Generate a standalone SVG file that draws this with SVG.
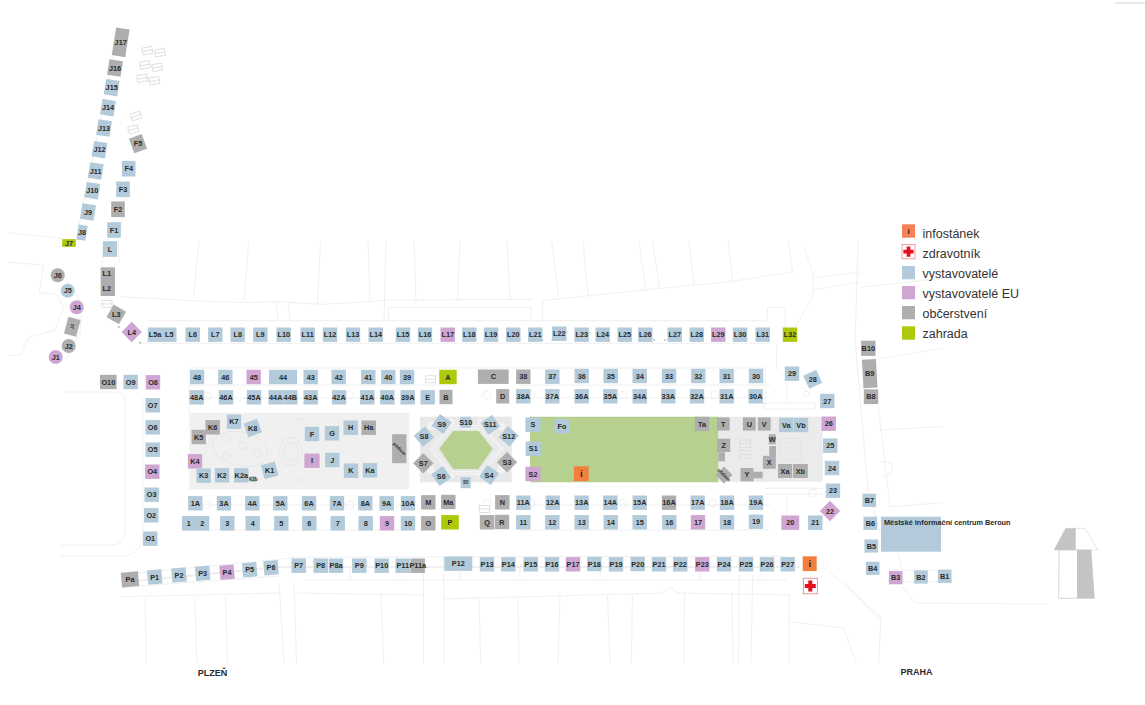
<svg xmlns="http://www.w3.org/2000/svg" width="1145" height="705" viewBox="0 0 1145 705">
<style>
text{font-family:"Liberation Sans",Arial,sans-serif;font-size:7.3px;font-weight:700;fill:#2a2a2a;text-anchor:middle}
.b{fill:#b2cad9}.e{fill:#cfa6d2}.o{fill:#aeaeae}.z{fill:#aec90b}.f{fill:#f47f3c}
#base path,#base line{fill:none;stroke:#e8e8e8;stroke-width:.65}
#base circle,#base ellipse,#base rect{fill:none;stroke:#e8e8e8;stroke-width:.65}
.car{fill:#fff;stroke:#d4d4d4;stroke-width:.7}
.dot{fill:#ccc}
.lg{font-size:12.5px;font-weight:400;text-anchor:start;fill:#333}
.t5{font-size:4.5px}
.i{font-size:9.5px;fill:#222}
</style>
<defs>
<rect id="s" x="-7.2" y="-7.2" width="14.4" height="14.4"/>
<g id="car"><rect class="car" x="-5" y="-3.5" width="10" height="7"/><line x1="-5" y1="0" x2="5" y2="0" stroke="#d4d4d4" stroke-width=".7"/></g>
<g id="cross"><rect x="-7" y="-7.8" width="14" height="15.6" fill="#fff" stroke="#e77" stroke-width=".8"/><path d="M-2-5.5h4v3.5h3.5v4h-3.5v3.5h-4v-3.5h-3.5v-4h3.5z" fill="#e8101c"/></g>
</defs>
<rect width="1145" height="705" fill="#fff"/>
<line x1="1115" y1="3" x2="1145" y2="3" stroke="#bbb" stroke-width=".7"/>

<g id="plazas">
<rect x="189.3" y="412.7" width="220" height="76.6" fill="#f0f0f0"/>
<rect x="420" y="416.7" width="91.7" height="65.6" fill="#e8e8e8"/>
<rect x="718.3" y="416.7" width="104.4" height="65" fill="#ebebeb"/>
<polygon points="530,416.7 718.3,416.7 718.3,482.3 530,482.3" fill="#b6d08f"/>
<polygon points="439.3,448.8 453.3,431 478.3,431 492.7,448.8 478.3,469 453.3,469" fill="#b6d08f"/>
<polygon points="430.7,448.8 450,426 481.7,426 501.7,448.8 481.7,474 450,474" fill="none" stroke="#f0f0f0" stroke-width="3"/>
<polygon points="434.7,448.8 451.5,428.5 480,428.5 497,448.8 480,471.5 451.5,471.5" fill="none" stroke="#f5f5f5" stroke-width="1"/>
<g fill="#f2f2f2"><circle cx="431" cy="426" r="4"/><circle cx="452" cy="422" r="3"/><circle cx="480" cy="422" r="3"/><circle cx="501" cy="426" r="4"/><circle cx="431" cy="470" r="4"/><circle cx="452" cy="476" r="3"/><circle cx="480" cy="476" r="3"/><circle cx="501" cy="470" r="4"/></g>
<g fill="none" stroke="#e2e2e2" stroke-width=".7">
<ellipse cx="240" cy="449" rx="28" ry="17" transform="rotate(14 240 449)"/>
<circle cx="226" cy="438.3" r="4"/><circle cx="243.3" cy="445.7" r="4"/><circle cx="257.3" cy="453.3" r="4"/><circle cx="226.7" cy="456" r="4"/>
<path d="M285 438h12l6 13-6 14h-12l-6-14z"/><path d="M287 443h8l4 8-4 9h-8l-4-9z"/>
<path d="M293 419h10M307 419h5M293 480h10M307 480h5"/>
<rect x="780" y="438.3" width="20.7" height="21.7"/><rect x="785" y="443" width="11" height="12"/><circle cx="790.5" cy="449" r="2"/>
</g>
<g fill="none" stroke="#dadada" stroke-width=".8"><rect x="739.5" y="440" width="11" height="7.5"/><rect x="739.5" y="450.5" width="11" height="7.5"/><path d="M739.5 443.7h11M739.5 454.2h11"/></g>
</g>

<g id="base">
<path d="M120 296.7L193 300.7 244 302.7 276 301.7 322 304.3 370 301.7 384 300 533 299.3M542 300.7L643.4 290 730.6 281.7 792.6 271.7"/>
<path d="M193.5 296.7L199 240M244 301.7L248.6 241.7M317.4 304L320.6 241.7M370 301.7L368 241.7M384 320L386 240M416 301.7L414 240M457.5 301.7L460 240M510 300L507 240M558.5 296.7L551.6 240M588 295L583 241.7M645.7 290L639 241.7M694 285L689 240M652.6 241.7L659.5 288M733 281.7L728 240M792.6 271.7L788 240"/>
<path d="M804 246.7L813 273V296.7L795 326.7M813 278L860 272M813 290L860 282"/>
<path d="M147.5 320.7H767M140 343.3H770M276 302L278 320M288 302L290 320M388.6 320V307.3H531V320M542.4 301.7V320M767.4 320V307.3H785V340M776.6 345V370"/>
<path d="M189 385V412M189 368H765M189 385H440M520 385H770M189 398H410M520 398H770M189 505H410M520 505H770M189 530H410M520 530H770M765 368V408"/>
<circle cx="207" cy="396" r="4"/><circle cx="349.6" cy="395" r="4"/><circle cx="487" cy="395" r="4"/><circle cx="531" cy="395" r="4"/><circle cx="622.8" cy="395" r="4"/><circle cx="714.6" cy="395" r="4"/><circle cx="806" cy="394" r="3"/>
<circle cx="207" cy="505" r="4"/><circle cx="349.6" cy="505" r="4"/><circle cx="487" cy="503" r="4"/><circle cx="531" cy="503" r="4"/><circle cx="622.8" cy="503" r="4"/><circle cx="713" cy="503" r="4"/><circle cx="812.7" cy="493" r="4"/>
<path d="M763 403H815V409H763ZM786.7 382V403M765 488.3H823M765 494H823M786.7 494V520"/>
<path d="M65 392H118Q125 392 125 400V530Q125 545 112 545H60M143 398V535Q143 552 125 556H60"/>
<path d="M136.4 573L279 559.3 294 557.3 786.6 556M121.5 587.3L279 576M304 580H786.6M121.5 596.7L279 593M296.6 593L423.5 595M443.4 599L663 593M663 593Q670 582 677 593L789 595"/>
<path d="M145 598L146.4 663M194.6 598L197 663M225.5 597L227.5 663M279 583L284 663M294 583L296.6 663M381 595L383.7 663M423.5 557V663M443.4 557L444.4 663M479 598L480.7 663M518 598L519 663M560 595L558 663M607.5 595L610 663M632.4 595L631.4 663M684.7 593L683.7 663M732 593L733 663M739.4 575L738.4 663M752.8 575L750.8 663M789 595V663M789 621.7L844 628 856 663"/>
<path d="M821.5 565L881 617 878.7 663M157 580V587M200 576V585M250 572V580M350 568V580M400 568V580M460 568V580M520 568V580M600 568V580M700 568V580M760 568V580"/>
<path d="M858.3 240L855 340 868 490 880 533M878.3 406.7L890 506.7M878 430L943 426.7M860 287.3L943 278M878 359L943 348M890 506.7L943 502.7M898 553L902 570M903 587L915 603 1048 604M845 583L880 620M888 570H952M888 581.7H952M880 461.7L892 463V471.7L883 478"/>
<path d="M8 232.7L62 238.3M8 262.3L43.3 265 39.3 292.3 56.7 295 63.3 308.3 55 330 28.3 337.3 20 355 8 355.7M63.3 275L81.7 303.3 80 333.3 66.7 358.3M118.3 240L119.3 261.7M103 256L102 267M115 50L78 230M120 233L128 180"/>
<path d="M125 582L280 567H800" style="stroke:#efefef;stroke-width:2"/>
</g>

<g id="parking">
<use href="#car" transform="translate(147.3 50.7) rotate(-10)"/><use href="#car" transform="translate(160 52.7) rotate(-10)"/>
<use href="#car" transform="translate(145 65) rotate(-10)"/><use href="#car" transform="translate(157.3 67.3) rotate(-10)"/>
<use href="#car" transform="translate(142.3 78.3) rotate(-10)"/><use href="#car" transform="translate(154.3 80.7) rotate(-10)"/>
<use href="#car" transform="translate(136 116) rotate(-20)"/><use href="#car" transform="translate(133.3 129.3) rotate(-15)"/>
<use href="#car" transform="translate(107 304)"/><use href="#car" transform="translate(430.7 379.3)"/><use href="#car" transform="translate(484.3 509)"/>
<circle class="dot" cx="119" cy="327" r="1.3"/><circle class="dot" cx="140" cy="342.7" r="1.3"/><circle class="dot" cx="542.3" cy="340" r="1.1"/><circle class="dot" cx="552.3" cy="340" r="1.1"/><circle class="dot" cx="654.3" cy="340" r="1.1"/><circle class="dot" cx="665" cy="340" r="1.1"/>
</g>

<g id="landmark">
<polygon points="1065.7,528.3 1085,528.3 1097.7,550 1054,550" fill="#fff" stroke="#ccc" stroke-width=".5"/>
<polygon points="1065.7,528.3 1075.7,528.3 1075.7,550 1054,550" fill="#c4c4c4"/>
<polygon points="1059,550 1091,550 1094.3,598.3 1058.7,598.3" fill="#fff" stroke="#c4c4c4" stroke-width=".7"/>
<polygon points="1077,550 1091,550 1094.3,598.3 1077,598.3" fill="#c4c4c4"/>
</g>

<g id="connectors"></g>

<g id="nodes">
<g id="nJ17" class="o" transform="translate(120.7 42.3)"><rect x="-6.8" y="-14" width="13.6" height="28" transform="rotate(9)"/><text y="2.5">J17</text></g>
<g id="nJ16" class="o" transform="translate(115 68)"><rect x="-6.8" y="-7.8" width="13.6" height="15.6" transform="rotate(9)"/><text y="2.5">J16</text></g>
<g id="nJ15" class="b" transform="translate(111.7 87.7)"><rect x="-6.8" y="-7.8" width="13.6" height="15.6" transform="rotate(9)"/><text y="2.5">J15</text></g>
<g id="nJ14" class="b" transform="translate(108 107.7)"><rect x="-6.8" y="-7.8" width="13.6" height="15.6" transform="rotate(9)"/><text y="2.5">J14</text></g>
<g id="nJ13" class="b" transform="translate(104 128)"><rect x="-6.8" y="-7.8" width="13.6" height="15.6" transform="rotate(9)"/><text y="2.5">J13</text></g>
<g id="nJ12" class="b" transform="translate(99.5 149.7)"><rect x="-6.8" y="-7.8" width="13.6" height="15.6" transform="rotate(9)"/><text y="2.5">J12</text></g>
<g id="nJ11" class="b" transform="translate(95.7 171)"><rect x="-6.8" y="-7.8" width="13.6" height="15.6" transform="rotate(9)"/><text y="2.5">J11</text></g>
<g id="nJ10" class="b" transform="translate(92.3 190.7)"><rect x="-6.8" y="-7.8" width="13.6" height="15.6" transform="rotate(9)"/><text y="2.5">J10</text></g>
<g id="nJ9" class="b" transform="translate(88 212)"><rect x="-6.8" y="-7.8" width="13.6" height="15.6" transform="rotate(9)"/><text y="2.5">J9</text></g>
<g id="nJ8" class="b" transform="translate(82 232.7)"><rect x="-4.5" y="-7.5" width="9" height="15" transform="rotate(9)"/><text y="2.5">J8</text></g>
<g id="nJ7" class="z" transform="translate(69 243)"><rect x="-6.8" y="-3.9" width="13.6" height="7.8"/><text y="2.5">J7</text></g>
<g id="nF5" class="o" transform="translate(138 143.7)"><rect x="-6.8" y="-7.8" width="13.6" height="15.6" transform="rotate(-20)"/><text y="2.5">F5</text></g>
<g id="nF4" class="b" transform="translate(128.7 168.7)"><rect x="-6.8" y="-7.8" width="13.6" height="15.6"/><text y="2.5">F4</text></g>
<g id="nF3" class="b" transform="translate(123 189.3)"><rect x="-6.8" y="-7.8" width="13.6" height="15.6"/><text y="2.5">F3</text></g>
<g id="nF2" class="o" transform="translate(118 209.3)"><rect x="-6.8" y="-7.8" width="13.6" height="15.6"/><text y="2.5">F2</text></g>
<g id="nF1" class="b" transform="translate(114 230)"><rect x="-6.8" y="-7.8" width="13.6" height="15.6"/><text y="2.5">F1</text></g>
<g id="nL" class="b" transform="translate(110 249)"><rect x="-7.2" y="-7.8" width="14.4" height="15.6"/><text y="2.5">L</text></g>
<g id="nL1L2" class="o"><rect x="100.7" y="267.3" width="14.3" height="28.7"/><text x="106.7" y="276">L1</text><text x="106.7" y="291.2">L2</text></g>
<g id="nL3" class="o" transform="translate(116.3 314.3)"><use href="#s" transform="rotate(30)"/><text y="2.5">L3</text></g>
<g id="nL4" class="e" transform="translate(131.7 332)"><use href="#s" transform="rotate(45)"/><text y="2.5">L4</text></g>

<g id="nL5a" class="b" transform="translate(155 334.7)"><use href="#s"/><text y="2.5">L5a</text></g>
<g id="nL5" class="b" transform="translate(169.3 334.7)"><use href="#s"/><text y="2.5">L5</text></g>
<g id="nL6" class="b" transform="translate(192.7 334.7)"><use href="#s"/><text y="2.5">L6</text></g>
<g id="nL7" class="b" transform="translate(215.3 334.7)"><use href="#s"/><text y="2.5">L7</text></g>
<g id="nL8" class="b" transform="translate(237.7 334.7)"><use href="#s"/><text y="2.5">L8</text></g>
<g id="nL9" class="b" transform="translate(260.3 334.7)"><use href="#s"/><text y="2.5">L9</text></g>
<g id="nL10" class="b" transform="translate(283.7 334.7)"><use href="#s"/><text y="2.5">L10</text></g>
<g id="nL11" class="b" transform="translate(307.7 334.7)"><use href="#s"/><text y="2.5">L11</text></g>
<g id="nL12" class="b" transform="translate(330 334.7)"><use href="#s"/><text y="2.5">L12</text></g>
<g id="nL13" class="b" transform="translate(353 334.7)"><use href="#s"/><text y="2.5">L13</text></g>
<g id="nL14" class="b" transform="translate(375.7 334.7)"><use href="#s"/><text y="2.5">L14</text></g>
<g id="nL15" class="b" transform="translate(403 334.7)"><use href="#s"/><text y="2.5">L15</text></g>
<g id="nL16" class="b" transform="translate(425 334.7)"><use href="#s"/><text y="2.5">L16</text></g>
<g id="nL17" class="e" transform="translate(447.7 334.7)"><use href="#s"/><text y="2.5">L17</text></g>
<g id="nL18" class="b" transform="translate(469.3 334.7)"><use href="#s"/><text y="2.5">L18</text></g>
<g id="nL19" class="b" transform="translate(491 334.7)"><use href="#s"/><text y="2.5">L19</text></g>
<g id="nL20" class="b" transform="translate(513.3 334.7)"><use href="#s"/><text y="2.5">L20</text></g>
<g id="nL21" class="b" transform="translate(535.3 334.7)"><use href="#s"/><text y="2.5">L21</text></g>
<g id="nL22" class="b" transform="translate(559.3 333.7)"><use href="#s"/><text y="2.5">L22</text></g>
<g id="nL23" class="b" transform="translate(581.7 334.7)"><use href="#s"/><text y="2.5">L23</text></g>
<g id="nL24" class="b" transform="translate(602.7 334.7)"><use href="#s"/><text y="2.5">L24</text></g>
<g id="nL25" class="b" transform="translate(624.7 334.7)"><use href="#s"/><text y="2.5">L25</text></g>
<g id="nL26" class="b" transform="translate(645.3 334.7)"><use href="#s"/><text y="2.5">L26</text></g>
<g id="nL27" class="b" transform="translate(674.7 334.7)"><use href="#s"/><text y="2.5">L27</text></g>
<g id="nL28" class="b" transform="translate(696.7 334.7)"><use href="#s"/><text y="2.5">L28</text></g>
<g id="nL29" class="e" transform="translate(718.3 334.7)"><use href="#s"/><text y="2.5">L29</text></g>
<g id="nL30" class="b" transform="translate(740 334.7)"><use href="#s"/><text y="2.5">L30</text></g>
<g id="nL31" class="b" transform="translate(762.7 334.7)"><use href="#s"/><text y="2.5">L31</text></g>
<g id="nL32" class="z" transform="translate(790 334.7)"><use href="#s"/><text y="2.5">L32</text></g>

<g id="n48" class="b" transform="translate(197 377)"><use href="#s"/><text y="2.5">48</text></g>
<g id="n46" class="b" transform="translate(225.3 377)"><use href="#s"/><text y="2.5">46</text></g>
<g id="n45" class="e" transform="translate(253.7 377)"><use href="#s"/><text y="2.5">45</text></g>
<g id="n44" class="b" transform="translate(283 377)"><rect x="-14" y="-7.2" width="28" height="14.4"/><text y="2.5">44</text></g>
<g id="n43" class="b" transform="translate(310.7 377)"><use href="#s"/><text y="2.5">43</text></g>
<g id="n42" class="b" transform="translate(338.7 377)"><use href="#s"/><text y="2.5">42</text></g>
<g id="n41" class="b" transform="translate(368.3 377)"><use href="#s"/><text y="2.5">41</text></g>
<g id="n40" class="b" transform="translate(388.3 377)"><use href="#s"/><text y="2.5">40</text></g>
<g id="n39" class="b" transform="translate(407 377)"><use href="#s"/><text y="2.5">39</text></g>
<g id="nA" class="z" transform="translate(448 377)"><rect x="-8.7" y="-7.2" width="17.4" height="14.4"/><text y="2.5">A</text></g>
<g id="nC" class="o" transform="translate(493.3 376.7)"><rect x="-15.4" y="-7.2" width="30.8" height="14.4"/><text y="2.5">C</text></g>
<g id="n38" class="o" transform="translate(523.3 376.7)"><use href="#s"/><text y="2.5">38</text></g>
<g id="n37" class="b" transform="translate(552.3 376.7)"><use href="#s"/><text y="2.5">37</text></g>
<g id="n36" class="b" transform="translate(581.7 376)"><use href="#s"/><text y="2.5">36</text></g>
<g id="n35" class="b" transform="translate(610.7 376)"><use href="#s"/><text y="2.5">35</text></g>
<g id="n34" class="b" transform="translate(639.7 376)"><use href="#s"/><text y="2.5">34</text></g>
<g id="n33" class="b" transform="translate(669 376)"><use href="#s"/><text y="2.5">33</text></g>
<g id="n32" class="b" transform="translate(698.3 376)"><use href="#s"/><text y="2.5">32</text></g>
<g id="n31" class="b" transform="translate(726.7 376)"><use href="#s"/><text y="2.5">31</text></g>
<g id="n30" class="b" transform="translate(756 376)"><use href="#s"/><text y="2.5">30</text></g>
<g id="n29" class="b" transform="translate(792 373.7)"><use href="#s"/><text y="2.5">29</text></g>
<g id="n28" class="b" transform="translate(812.7 379.3)"><use href="#s" transform="rotate(-25)"/><text y="2.5">28</text></g>
<g id="n27" class="b" transform="translate(827.3 401)"><use href="#s"/><text y="2.5">27</text></g>

<g id="n48A" class="b" transform="translate(196.7 397.3)"><use href="#s"/><text y="2.5">48A</text></g>
<g id="n46A" class="b" transform="translate(226 397.3)"><use href="#s"/><text y="2.5">46A</text></g>
<g id="n45A" class="b" transform="translate(254 397.3)"><use href="#s"/><text y="2.5">45A</text></g>
<g id="n44A" class="b" transform="translate(275.7 397.3)"><use href="#s"/><text y="2.5">44A</text></g>
<g id="n44B" class="b" transform="translate(290.3 397.3)"><use href="#s"/><text y="2.5">44B</text></g>
<g id="n43A" class="b" transform="translate(310.7 397.3)"><use href="#s"/><text y="2.5">43A</text></g>
<g id="n42A" class="b" transform="translate(339 397.3)"><use href="#s"/><text y="2.5">42A</text></g>
<g id="n41A" class="b" transform="translate(367.3 397.3)"><use href="#s"/><text y="2.5">41A</text></g>
<g id="n40A" class="b" transform="translate(387.3 397.3)"><use href="#s"/><text y="2.5">40A</text></g>
<g id="n39A" class="b" transform="translate(407.7 397.3)"><use href="#s"/><text y="2.5">39A</text></g>
<g id="nE" class="b" transform="translate(427.7 397.3)"><use href="#s"/><text y="2.5">E</text></g>
<g id="nB" class="o" transform="translate(446 397)"><rect x="-6.5" y="-7.2" width="13" height="14.4"/><text y="2.5">B</text></g>
<g id="nD" class="o" transform="translate(502.7 396.3)"><rect x="-6.5" y="-7.2" width="13" height="14.4"/><text y="2.5">D</text></g>
<g id="n38A" class="b" transform="translate(523.3 396.3)"><use href="#s"/><text y="2.5">38A</text></g>
<g id="n37A" class="b" transform="translate(552.3 396.3)"><use href="#s"/><text y="2.5">37A</text></g>
<g id="n36A" class="b" transform="translate(581.7 396.3)"><use href="#s"/><text y="2.5">36A</text></g>
<g id="n35A" class="b" transform="translate(610.3 396.3)"><use href="#s"/><text y="2.5">35A</text></g>
<g id="n34A" class="b" transform="translate(639.7 396.3)"><use href="#s"/><text y="2.5">34A</text></g>
<g id="n33A" class="b" transform="translate(668.3 396.3)"><use href="#s"/><text y="2.5">33A</text></g>
<g id="n32A" class="b" transform="translate(697 396.3)"><use href="#s"/><text y="2.5">32A</text></g>
<g id="n31A" class="b" transform="translate(726.7 396.3)"><use href="#s"/><text y="2.5">31A</text></g>
<g id="n30A" class="b" transform="translate(755.7 396.3)"><use href="#s"/><text y="2.5">30A</text></g>

<g id="nK6" class="o" transform="translate(212.7 427.3)"><use href="#s"/><text y="2.5">K6</text></g>
<g id="nK5" class="o" transform="translate(198.7 437)"><use href="#s"/><text y="2.5">K5</text></g>
<g id="nK7" class="b" transform="translate(234 421.7)"><use href="#s"/><text y="2.5">K7</text></g>
<g id="nK8" class="b" transform="translate(252.7 428)"><use href="#s" transform="rotate(-20)"/><text y="2.5">K8</text></g>
<g id="nK4" class="e" transform="translate(195 461.3)"><use href="#s"/><text y="2.5">K4</text></g>
<g id="nK3" class="b" transform="translate(203.7 475.7)"><use href="#s"/><text y="2.5">K3</text></g>
<g id="nK2" class="b" transform="translate(222 475.3)"><use href="#s"/><text y="2.5">K2</text></g>
<g id="nK2a" class="b" transform="translate(241.3 475.3)"><use href="#s"/><text y="2.5">K2a</text></g>
<g id="nK2b" class="b" transform="translate(253.3 479)"><rect x="-3" y="-3" width="6" height="6"/><text y="1.5" class="t5">K2b</text></g>
<g id="nK1" class="b" transform="translate(269.7 470.3)"><use href="#s" transform="rotate(-15)"/><text y="2.5">K1</text></g>
<g id="nF" class="b" transform="translate(312 434)"><use href="#s"/><text y="2.5">F</text></g>
<g id="nG" class="b" transform="translate(332 433.3)"><use href="#s"/><text y="2.5">G</text></g>
<g id="nH" class="b" transform="translate(350.7 427.7)"><use href="#s"/><text y="2.5">H</text></g>
<g id="nHa" class="o" transform="translate(368.7 427.7)"><use href="#s"/><text y="2.5">Ha</text></g>
<g id="nI" class="e" transform="translate(312 460.7)"><rect x="-7.6" y="-7.2" width="15.2" height="14.4"/><text y="2.5">I</text></g>
<g id="nJ" class="b" transform="translate(332.3 460)"><use href="#s"/><text y="2.5">J</text></g>
<g id="nK" class="b" transform="translate(351 470.7)"><use href="#s"/><text y="2.5">K</text></g>
<g id="nKa" class="b" transform="translate(370 470.3)"><use href="#s"/><text y="2.5">Ka</text></g>
<g id="nPodium1" class="o" transform="translate(399.3 448.7)"><rect x="-7.2" y="-14.5" width="14.4" height="29"/><text class="t5" y="1.5" transform="rotate(45)">pódium</text></g>

<g id="nS9" class="b" transform="translate(441.7 424)"><use href="#s" transform="rotate(35)"/><text y="2.5">S9</text></g>
<g id="nS10" class="b" transform="translate(465.7 422.3)"><rect x="-5.5" y="-5.5" width="11" height="11"/><text y="2.5">S10</text></g>
<g id="nS11" class="b" transform="translate(490.3 424.7)"><use href="#s" transform="rotate(-35)"/><text y="2.5">S11</text></g>
<g id="nS12" class="b" transform="translate(508.7 436.3)"><use href="#s" transform="rotate(-50)"/><text y="2.5">S12</text></g>
<g id="nS3" class="o" transform="translate(507 462.3)"><use href="#s" transform="rotate(45)"/><text y="2.5">S3</text></g>
<g id="nS4" class="b" transform="translate(489 475)"><use href="#s" transform="rotate(35)"/><text y="2.5">S4</text></g>
<g id="nS5" class="b" transform="translate(465.7 482.7)"><rect x="-5" y="-5.5" width="10" height="11"/><text y="1.5" class="t5">S5</text></g>
<g id="nS6" class="b" transform="translate(441.3 476)"><use href="#s" transform="rotate(-35)"/><text y="2.5">S6</text></g>
<g id="nS7" class="o" transform="translate(423.3 463.3)"><use href="#s" transform="rotate(45)"/><text y="2.5">S7</text></g>
<g id="nS8" class="b" transform="translate(424 436.7)"><use href="#s" transform="rotate(50)"/><text y="2.5">S8</text></g>
<g id="nS" class="b" transform="translate(533 424.7)"><rect x="-7.6" y="-7.2" width="15.2" height="14.4"/><text y="2.5">S</text></g>
<g id="nS1" class="b" transform="translate(533.3 448.7)"><rect x="-7.6" y="-7.2" width="15.2" height="14.4"/><text y="2.5">S1</text></g>
<g id="nS2" class="e" transform="translate(533 474)"><rect x="-7.6" y="-7.2" width="15.2" height="14.4"/><text y="2.5">S2</text></g>
<g id="nFo" class="b" transform="translate(562 426.3)"><rect x="-7.6" y="-7.2" width="15.2" height="14.4"/><text y="2.5">Fo</text></g>
<g id="nTa" class="o" transform="translate(702 424)"><use href="#s"/><text y="2.5">Ta</text></g>
<g id="ninfo1" class="f" transform="translate(581.3 473.7)"><rect x="-7.4" y="-7.4" width="14.8" height="14.8"/><text class="i" y="3.3">i</text></g>

<g id="nT" class="o" transform="translate(723.3 424)"><rect x="-6.4" y="-6.6" width="12.8" height="13.2"/><text y="2.5">T</text></g>
<g id="nU" class="o" transform="translate(749.3 424)"><rect x="-6.4" y="-6.6" width="12.8" height="13.2"/><text y="2.5">U</text></g>
<g id="nV" class="o" transform="translate(764.3 424)"><rect x="-6.4" y="-6.6" width="12.8" height="13.2"/><text y="2.5">V</text></g>
<g id="nVa" class="b" transform="translate(786.3 425)"><use href="#s"/><text y="2.5">Va</text></g>
<g id="nVb" class="b" transform="translate(801 425)"><use href="#s"/><text y="2.5">Vb</text></g>
<g id="nW" class="o" transform="translate(772.3 439.3)"><rect x="-3.5" y="-5" width="7" height="10"/><text y="2.5">W</text></g>
<rect class="o" x="769.3" y="446" width="6.7" height="10.7"/>
<g id="nX" class="o" transform="translate(769.3 462.3)"><rect x="-6.5" y="-6.5" width="13" height="13"/><text y="2.5">X</text></g>
<g id="nXa" class="o" transform="translate(785 471)"><rect x="-7" y="-7" width="14" height="14"/><text y="2.5">Xa</text></g>
<g id="nXb" class="o" transform="translate(800.3 471)"><rect x="-7.5" y="-7" width="15" height="14"/><text y="2.5">Xb</text></g>
<g id="nY" class="o" transform="translate(747 474.7)"><rect x="-6.5" y="-6.7" width="13" height="13.4"/><rect x="6" y="-3" width="9.7" height="6.6"/><text y="2.5">Y</text></g>
<g id="nZ" class="o" transform="translate(723.7 445.3)"><rect x="-6.5" y="-6.7" width="13" height="13.4"/><rect x="-5.4" y="7" width="6.7" height="9"/><text y="2.5">Z</text></g>
<g id="nPodium2" class="o" transform="translate(724 475)"><rect x="-6" y="-6" width="12" height="12" transform="rotate(45)"/><text class="t5" y="1.5" transform="rotate(45)">pódium</text></g>

<g id="n1A" class="b" transform="translate(195.3 503.3)"><use href="#s"/><text y="2.5">1A</text></g>
<g id="n3A" class="b" transform="translate(224 503.3)"><use href="#s"/><text y="2.5">3A</text></g>
<g id="n4A" class="b" transform="translate(252.3 503.3)"><use href="#s"/><text y="2.5">4A</text></g>
<g id="n5A" class="b" transform="translate(280.3 503.3)"><use href="#s"/><text y="2.5">5A</text></g>
<g id="n6A" class="b" transform="translate(309 503.3)"><use href="#s"/><text y="2.5">6A</text></g>
<g id="n7A" class="b" transform="translate(337 503.3)"><use href="#s"/><text y="2.5">7A</text></g>
<g id="n8A" class="b" transform="translate(365.3 503.3)"><use href="#s"/><text y="2.5">8A</text></g>
<g id="n9A" class="b" transform="translate(386.7 503.3)"><use href="#s"/><text y="2.5">9A</text></g>
<g id="n10A" class="b" transform="translate(408 503.3)"><use href="#s"/><text y="2.5">10A</text></g>
<g id="nM" class="o" transform="translate(428.3 502.3)"><use href="#s"/><text y="2.5">M</text></g>
<g id="nMa" class="o" transform="translate(448.3 502)"><use href="#s"/><text y="2.5">Ma</text></g>
<g id="nN" class="o" transform="translate(502.3 502.3)"><use href="#s"/><text y="2.5">N</text></g>
<g id="n11A" class="b" transform="translate(523.3 502.7)"><use href="#s"/><text y="2.5">11A</text></g>
<g id="n12A" class="b" transform="translate(552.7 502.7)"><use href="#s"/><text y="2.5">12A</text></g>
<g id="n13A" class="b" transform="translate(581.7 502.7)"><use href="#s"/><text y="2.5">13A</text></g>
<g id="n14A" class="b" transform="translate(610.3 502.7)"><use href="#s"/><text y="2.5">14A</text></g>
<g id="n15A" class="b" transform="translate(639.7 502.7)"><use href="#s"/><text y="2.5">15A</text></g>
<g id="n16A" class="o" transform="translate(669 502.7)"><use href="#s"/><text y="2.5">16A</text></g>
<g id="n17A" class="b" transform="translate(697.7 502.7)"><use href="#s"/><text y="2.5">17A</text></g>
<g id="n18A" class="b" transform="translate(727 502.7)"><use href="#s"/><text y="2.5">18A</text></g>
<g id="n19A" class="b" transform="translate(756 502.7)"><use href="#s"/><text y="2.5">19A</text></g>

<g id="n1-2" class="b"><rect x="182" y="516" width="27.3" height="14.6"/><text x="188.7" y="525.8">1</text><text x="202.3" y="525.8">2</text></g>
<g id="n3" class="b" transform="translate(227.3 523.3)"><use href="#s"/><text y="2.5">3</text></g>
<g id="n4" class="b" transform="translate(252.7 523.3)"><use href="#s"/><text y="2.5">4</text></g>
<g id="n5" class="b" transform="translate(281.3 523.3)"><use href="#s"/><text y="2.5">5</text></g>
<g id="n6" class="b" transform="translate(309.3 523.3)"><use href="#s"/><text y="2.5">6</text></g>
<g id="n7" class="b" transform="translate(337.7 523.3)"><use href="#s"/><text y="2.5">7</text></g>
<g id="n8" class="b" transform="translate(365.7 523.3)"><use href="#s"/><text y="2.5">8</text></g>
<g id="n9" class="e" transform="translate(387 523.3)"><use href="#s"/><text y="2.5">9</text></g>
<g id="n10" class="b" transform="translate(408 523.3)"><use href="#s"/><text y="2.5">10</text></g>
<g id="nO" class="o" transform="translate(428.3 523.3)"><use href="#s"/><text y="2.5">O</text></g>
<g id="nP" class="z" transform="translate(450 522.3)"><rect x="-8.8" y="-7.2" width="17.6" height="14.4"/><text y="2.5">P</text></g>
<g id="nQ" class="o" transform="translate(487 522.3)"><use href="#s"/><text y="2.5">Q</text></g>
<g id="nR" class="o" transform="translate(502 522)"><use href="#s"/><text y="2.5">R</text></g>
<g id="n11" class="b" transform="translate(523.3 522.3)"><use href="#s"/><text y="2.5">11</text></g>
<g id="n12" class="b" transform="translate(552.3 522.3)"><use href="#s"/><text y="2.5">12</text></g>
<g id="n13" class="b" transform="translate(581.7 522.3)"><use href="#s"/><text y="2.5">13</text></g>
<g id="n14" class="b" transform="translate(610.7 522.3)"><use href="#s"/><text y="2.5">14</text></g>
<g id="n15" class="b" transform="translate(639.7 522.3)"><use href="#s"/><text y="2.5">15</text></g>
<g id="n16" class="b" transform="translate(669.3 522.3)"><use href="#s"/><text y="2.5">16</text></g>
<g id="n17" class="e" transform="translate(698 522.3)"><use href="#s"/><text y="2.5">17</text></g>
<g id="n18" class="b" transform="translate(727 522.3)"><use href="#s"/><text y="2.5">18</text></g>
<g id="n19" class="b" transform="translate(756 521.7)"><use href="#s"/><text y="2.5">19</text></g>
<g id="n20" class="e" transform="translate(790.3 522.7)"><rect x="-8.9" y="-7.2" width="17.8" height="14.4"/><text y="2.5">20</text></g>
<g id="n21" class="b" transform="translate(815.3 522.7)"><use href="#s"/><text y="2.5">21</text></g>
<g id="n22" class="e" transform="translate(830 511)"><use href="#s" transform="rotate(45)"/><text y="2.5">22</text></g>
<g id="n23" class="b" transform="translate(833 490.7)"><use href="#s"/><text y="2.5">23</text></g>
<g id="n24" class="b" transform="translate(832 468)"><use href="#s"/><text y="2.5">24</text></g>
<g id="n25" class="b" transform="translate(830.3 445.7)"><use href="#s"/><text y="2.5">25</text></g>
<g id="n26" class="e" transform="translate(828.7 423.7)"><use href="#s"/><text y="2.5">26</text></g>

<g id="nO10" class="o" transform="translate(108.3 382)"><rect x="-8.3" y="-7.2" width="16.6" height="14.4"/><text y="2.5">O10</text></g>
<g id="nO9" class="b" transform="translate(130.7 382)"><use href="#s"/><text y="2.5">O9</text></g>
<g id="nO8" class="e" transform="translate(153 382.3)"><use href="#s"/><text y="2.5">O8</text></g>
<g id="nO7" class="b" transform="translate(152.7 405.3)"><use href="#s"/><text y="2.5">O7</text></g>
<g id="nO6" class="b" transform="translate(152.7 427.3)"><use href="#s"/><text y="2.5">O6</text></g>
<g id="nO5" class="b" transform="translate(152.7 449.7)"><use href="#s"/><text y="2.5">O5</text></g>
<g id="nO4" class="e" transform="translate(152.3 471.7)"><use href="#s"/><text y="2.5">O4</text></g>
<g id="nO3" class="b" transform="translate(151.7 494.7)"><use href="#s"/><text y="2.5">O3</text></g>
<g id="nO2" class="b" transform="translate(151.3 515.3)"><use href="#s"/><text y="2.5">O2</text></g>
<g id="nO1" class="b" transform="translate(150.3 538.7)"><use href="#s"/><text y="2.5">O1</text></g>

<g id="nPa" class="o" transform="translate(130 579.3)"><rect x="-8.6" y="-7.4" width="17.2" height="14.8" transform="rotate(-5)"/><text y="2.5">Pa</text></g>
<g id="nP1" class="b" transform="translate(154.7 577)"><use href="#s" transform="rotate(-5)"/><text y="2.5">P1</text></g>
<g id="nP2" class="b" transform="translate(179 575)"><use href="#s" transform="rotate(-5)"/><text y="2.5">P2</text></g>
<g id="nP3" class="b" transform="translate(202.7 573.3)"><use href="#s" transform="rotate(-5)"/><text y="2.5">P3</text></g>
<g id="nP4" class="e" transform="translate(227 572.3)"><use href="#s" transform="rotate(-5)"/><text y="2.5">P4</text></g>
<g id="nP5" class="b" transform="translate(249.7 569.7)"><use href="#s" transform="rotate(-5)"/><text y="2.5">P5</text></g>
<g id="nP6" class="b" transform="translate(271 567.7)"><use href="#s" transform="rotate(-5)"/><text y="2.5">P6</text></g>
<g id="nP7" class="b" transform="translate(298.7 565.7)"><use href="#s"/><text y="2.5">P7</text></g>
<g id="nP8" class="b" transform="translate(320.7 565.7)"><use href="#s"/><text y="2.5">P8</text></g>
<g id="nP8a" class="b" transform="translate(336 565.7)"><use href="#s"/><text y="2.5">P8a</text></g>
<g id="nP9" class="b" transform="translate(359.3 565.7)"><use href="#s"/><text y="2.5">P9</text></g>
<g id="nP10" class="b" transform="translate(381.7 565.7)"><use href="#s"/><text y="2.5">P10</text></g>
<g id="nP11" class="b" transform="translate(402.7 565.7)"><use href="#s"/><text y="2.5">P11</text></g>
<g id="nP11a" class="o" transform="translate(417.7 565.7)"><use href="#s"/><text y="2.5">P11a</text></g>
<g id="nP12" class="b" transform="translate(458.3 563.7)"><rect x="-14" y="-7.2" width="28" height="14.4"/><text y="2.5">P12</text></g>
<g id="nP13" class="b" transform="translate(487 564.3)"><use href="#s"/><text y="2.5">P13</text></g>
<g id="nP14" class="b" transform="translate(508.3 564.3)"><use href="#s"/><text y="2.5">P14</text></g>
<g id="nP15" class="b" transform="translate(530.7 564.3)"><use href="#s"/><text y="2.5">P15</text></g>
<g id="nP16" class="b" transform="translate(552 564.3)"><use href="#s"/><text y="2.5">P16</text></g>
<g id="nP17" class="e" transform="translate(573 564.3)"><use href="#s"/><text y="2.5">P17</text></g>
<g id="nP18" class="b" transform="translate(594.3 564)"><use href="#s"/><text y="2.5">P18</text></g>
<g id="nP19" class="b" transform="translate(616 564.3)"><use href="#s"/><text y="2.5">P19</text></g>
<g id="nP20" class="b" transform="translate(637.7 564)"><use href="#s"/><text y="2.5">P20</text></g>
<g id="nP21" class="b" transform="translate(659 564.3)"><use href="#s"/><text y="2.5">P21</text></g>
<g id="nP22" class="b" transform="translate(680.3 564.3)"><use href="#s"/><text y="2.5">P22</text></g>
<g id="nP23" class="e" transform="translate(702.3 564.3)"><use href="#s"/><text y="2.5">P23</text></g>
<g id="nP24" class="b" transform="translate(724 564.3)"><use href="#s"/><text y="2.5">P24</text></g>
<g id="nP25" class="b" transform="translate(746 564.3)"><use href="#s"/><text y="2.5">P25</text></g>
<g id="nP26" class="b" transform="translate(767 564.3)"><use href="#s"/><text y="2.5">P26</text></g>
<g id="nP27" class="b" transform="translate(787.7 564.3)"><use href="#s"/><text y="2.5">P27</text></g>
<g id="ninfo2" class="f" transform="translate(809.7 563.7)"><rect x="-7" y="-7.4" width="14" height="14.8"/><text class="i" y="3.3">i</text></g>
<use id="nmedic" href="#cross" transform="translate(810.3 586)"/>

<g id="nJ6" class="o"><circle cx="57.7" cy="275.3" r="7"/><text x="57.7" y="277.8">J6</text></g>
<g id="nJ5" class="b"><circle cx="67.7" cy="290.7" r="7"/><text x="67.7" y="293.2">J5</text></g>
<g id="nJ4" class="e"><circle cx="76.7" cy="307.3" r="7"/><text x="76.7" y="309.8">J4</text></g>
<g id="nJ3" class="o" transform="translate(72.3 326.7)"><rect x="-6.3" y="-8.6" width="12.6" height="17.2" transform="rotate(15)"/><text class="t5" y="1.5" transform="rotate(-78)">J3</text></g>
<g id="nJ2" class="o"><circle cx="68.7" cy="346" r="7"/><text x="68.7" y="348.5">J2</text></g>
<g id="nJ1" class="e"><circle cx="55.7" cy="357" r="7"/><text x="55.7" y="359.5">J1</text></g>

<g id="nB10" class="o" transform="translate(868.3 348.3)"><rect x="-7.2" y="-7.6" width="14.4" height="15.2"/><text y="2.5">B10</text></g>
<g id="nB9" class="o" transform="translate(869.7 373.7)"><rect x="-7" y="-14.3" width="14" height="28.6" transform="rotate(-3)"/><text y="2.5">B9</text></g>
<g id="nB8" class="o" transform="translate(871 396.7)"><rect x="-7.2" y="-7.4" width="14.4" height="14.8"/><text y="2.5">B8</text></g>
<g id="nB7" class="b" transform="translate(869.3 500.3)"><rect x="-6.8" y="-6.6" width="13.6" height="13.2"/><text y="2.5">B7</text></g>
<g id="nB6" class="b" transform="translate(870.3 523.3)"><rect x="-6.8" y="-6.6" width="13.6" height="13.2"/><text y="2.5">B6</text></g>
<g id="nB5" class="b" transform="translate(871.3 546)"><rect x="-6.8" y="-6.6" width="13.6" height="13.2"/><text y="2.5">B5</text></g>
<g id="nB4" class="b" transform="translate(872.7 568.3)"><rect x="-6.8" y="-6.6" width="13.6" height="13.2"/><text y="2.5">B4</text></g>
<g id="nB3" class="e" transform="translate(895.7 577.7)"><rect x="-6.8" y="-6.6" width="13.6" height="13.2"/><text y="2.5">B3</text></g>
<g id="nB2" class="b" transform="translate(921 577)"><rect x="-6.8" y="-6.6" width="13.6" height="13.2"/><text y="2.5">B2</text></g>
<g id="nB1" class="b" transform="translate(944.7 576.3)"><rect x="-6.8" y="-6.6" width="13.6" height="13.2"/><text y="2.5">B1</text></g>
<g id="nMIC" class="b"><rect x="881" y="516.7" width="60" height="35"/><text x="884" y="525" style="text-anchor:start">Městské informační centrum Beroun</text></g>
</g>

<g id="legend">
<rect x="902" y="224.3" width="13" height="13.4" fill="#f58158"/><text x="908.5" y="233.8" class="i" style="font-size:8px">i</text>
<use href="#cross" transform="translate(908.5 251.6) scale(.93)"/>
<rect class="b" x="902" y="266" width="13" height="13.3"/>
<rect class="e" x="902" y="286" width="13" height="13.3"/>
<rect class="o" x="902" y="306" width="13" height="13.3"/>
<rect class="z" x="902" y="326.3" width="13" height="13.4"/>
<text class="lg" x="922.5" y="237.5">infostánek</text>
<text class="lg" x="922.5" y="258">zdravotník</text>
<text class="lg" x="922.5" y="278">vystavovatelé</text>
<text class="lg" x="922.5" y="298">vystavovatelé EU</text>
<text class="lg" x="922.5" y="318">občerstvení</text>
<text class="lg" x="922.5" y="338">zahrada</text>
</g>

<text x="212.5" y="676" style="font-size:9px">PLZEŇ</text>
<text x="916.5" y="675" style="font-size:9px">PRAHA</text>
</svg>
